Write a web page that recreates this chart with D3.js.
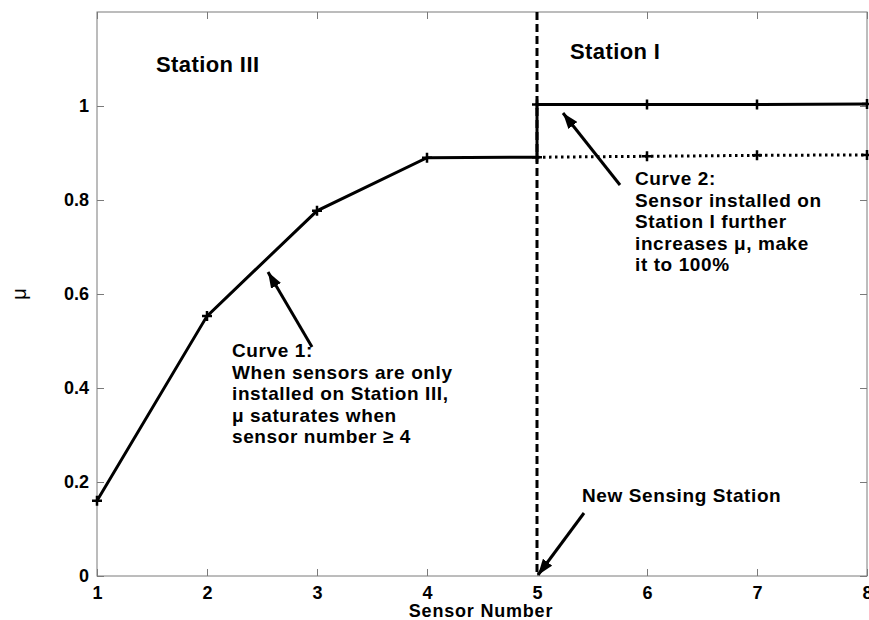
<!DOCTYPE html>
<html>
<head>
<meta charset="utf-8">
<script src="https://cdn.jsdelivr.net/npm/d3@7"></script>
<style>
  body { margin: 0; background: #fff; }
  svg { display: block; font-family: "Liberation Sans", Arial, sans-serif; font-weight: bold; }
</style>
</head>
<body>
<svg id="chart"></svg>
<script>
const width = 869, height = 620;
const margin = { top: 12, right: 2, bottom: 44, left: 97 };

// Curve 1: sensors only on Station III
const sensors1 = [1, 2, 3, 4, 5];
const mu1 = [0.16, 0.553, 0.777, 0.89, 0.891];
// Curve 1 continued (dotted) beyond 5 sensors
const sensorsExt = [5, 6, 7, 8];
const muExt = [0.891, 0.893, 0.895, 0.896];
// Curve 2: sensor installed on Station I
const sensors2 = [5, 5, 6, 7, 8];
const mu2 = [0.891, 1.003, 1.003, 1.003, 1.004];

const xTicks = [1, 2, 3, 4, 5, 6, 7, 8];
const yTicks = [0, 0.2, 0.4, 0.6, 0.8, 1];
const newStation = 5;

const svg = d3.select('#chart').attr('width', width).attr('height', height);

const x = d3.scaleLinear().domain([1, 8]).range([margin.left, width - margin.right]);
const y = d3.scaleLinear().domain([0, 1.2]).range([height - margin.bottom, margin.top]);

const frame = '#7a7a7a';
const tickLen = 7;

// arrowhead
svg.append('defs').append('marker')
  .attr('id', 'arrow')
  .attr('viewBox', '0 -5 14 10')
  .attr('refX', 14)
  .attr('refY', 0)
  .attr('markerUnits', 'userSpaceOnUse')
  .attr('markerWidth', 16)
  .attr('markerHeight', 12)
  .attr('orient', 'auto')
  .append('path')
  .attr('d', 'M0,-5 L14,0 L0,5 Z')
  .attr('fill', '#000');

// box
const x0 = x.range()[0], x1 = x.range()[1], y0 = y.range()[0], y1 = y.range()[1];
svg.append('rect')
  .attr('x', x0).attr('y', y1)
  .attr('width', x1 - x0).attr('height', y0 - y1)
  .attr('fill', 'none').attr('stroke', frame).attr('stroke-width', 1);

// x axis (bottom) and mirrored top ticks
const xAxis = svg.append('g').attr('transform', `translate(0,${y0})`)
  .call(d3.axisBottom(x).tickValues(xTicks).tickSizeInner(-tickLen).tickSizeOuter(0).tickPadding(10).tickFormat(d3.format('d')));
xAxis.select('.domain').remove();
xAxis.selectAll('line').attr('stroke', frame);
xAxis.selectAll('text').attr('font-size', 18).attr('font-family', null).attr('fill', '#000');

const xTop = svg.append('g').attr('transform', `translate(0,${y1})`)
  .call(d3.axisTop(x).tickValues(xTicks).tickSizeInner(-tickLen).tickSizeOuter(0).tickFormat(''));
xTop.select('.domain').remove();
xTop.selectAll('line').attr('stroke', frame);

// y axis (left) and mirrored right ticks
const yAxis = svg.append('g').attr('transform', `translate(${x0},0)`)
  .call(d3.axisLeft(y).tickValues(yTicks).tickSizeInner(-tickLen).tickSizeOuter(0).tickPadding(8).tickFormat(d => d3.format('~g')(d)));
yAxis.select('.domain').remove();
yAxis.selectAll('line').attr('stroke', frame);
yAxis.selectAll('text').attr('font-size', 18).attr('font-family', null).attr('fill', '#000');

const yRight = svg.append('g').attr('transform', `translate(${x1},0)`)
  .call(d3.axisRight(y).tickValues(yTicks).tickSizeInner(-tickLen).tickSizeOuter(0).tickFormat(''));
yRight.select('.domain').remove();
yRight.selectAll('line').attr('stroke', frame);

// axis titles
svg.append('text')
  .attr('x', 481).attr('y', 617)
  .attr('text-anchor', 'middle').attr('font-size', 18).attr('letter-spacing', 0.8)
  .text('Sensor Number');
svg.append('text')
  .attr('transform', `translate(26,${y(0.6)}) rotate(-90)`)
  .attr('text-anchor', 'middle').attr('font-size', 20)
  .attr('font-weight', 'normal')
  .text('μ');

// vertical dashed line at new station
svg.append('line')
  .attr('x1', x(newStation)).attr('x2', x(newStation))
  .attr('y1', y1).attr('y2', y0)
  .attr('stroke', '#000').attr('stroke-width', 3)
  .attr('stroke-dasharray', '8,4');

const line = d3.line().x(d => x(d[0])).y(d => y(d[1]));
const pts1 = d3.zip(sensors1, mu1);
const ptsExt = d3.zip(sensorsExt, muExt);
const pts2 = d3.zip(sensors2, mu2);

svg.append('path').datum(ptsExt).attr('d', line)
  .attr('fill', 'none').attr('stroke', '#000').attr('stroke-width', 3)
  .attr('stroke-dasharray', '2.5,3.5');
svg.append('path').datum(pts1).attr('d', line)
  .attr('fill', 'none').attr('stroke', '#000').attr('stroke-width', 3);
svg.append('path').datum(pts2).attr('d', line)
  .attr('fill', 'none').attr('stroke', '#000').attr('stroke-width', 3);

// '+' markers
const markers = pts1.concat(ptsExt.slice(1), pts2.slice(1));
svg.selectAll('.mark').data(markers).enter().append('path')
  .attr('class', 'mark')
  .attr('transform', d => `translate(${x(d[0])},${y(d[1])})`)
  .attr('d', 'M-5,0 L5,0 M0,-5 L0,5')
  .attr('stroke', '#000').attr('stroke-width', 2.5);

// station labels
svg.append('text').attr('x', 156).attr('y', 72).attr('font-size', 22).attr('letter-spacing', 0.4).text('Station III');
svg.append('text').attr('x', 570).attr('y', 59).attr('font-size', 22).attr('letter-spacing', 0.4).text('Station I');

// annotations
const note = (lines, xp, yp) => {
  const t = svg.append('text').attr('x', xp).attr('y', yp)
    .attr('font-size', 19).attr('letter-spacing', 0.6);
  lines.forEach((s, i) => t.append('tspan').attr('x', xp).attr('dy', i ? 21.6 : 0).text(s));
};
note(['Curve 1:', 'When sensors are only', 'installed on Station III,', 'μ saturates when', 'sensor number ≥ 4'], 232, 357);
note(['Curve 2:', 'Sensor installed on', 'Station I further', 'increases μ, make', 'it to 100%'], 635, 185);
note(['New Sensing Station'], 582, 502);

const arrow = (xa, ya, xb, yb) => svg.append('line')
  .attr('x1', xa).attr('y1', ya).attr('x2', xb).attr('y2', yb)
  .attr('stroke', '#000').attr('stroke-width', 3)
  .attr('marker-end', 'url(#arrow)');
arrow(312, 347, 268, 272);
arrow(620, 185, 563, 113);
arrow(584, 513, x(newStation) + 1, y(0) - 1);
</script>
</body>
</html>
